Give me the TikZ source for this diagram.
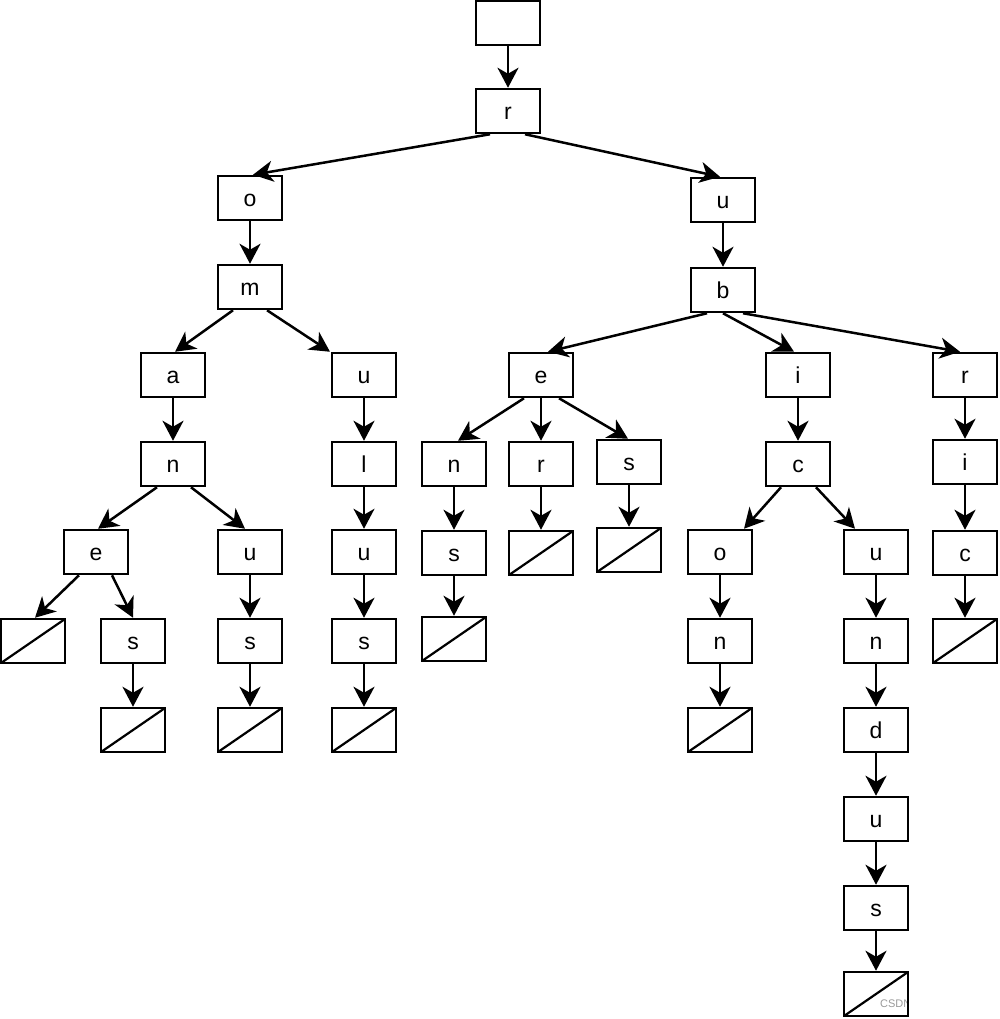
\documentclass[tikz,border=0pt]{standalone}
\usepackage{fontspec}
\setmainfont{Liberation Sans}
\usetikzlibrary{arrows.meta}
\begin{document}
\begin{tikzpicture}[x=1pt,y=-1pt,
  box/.style={draw, line width=2.5pt, minimum width=64pt, minimum height=44pt,
    inner sep=0pt, text height=16.5pt, text depth=0pt, font=\fontsize{23}{27}\selectfont},
  nullbox/.style={box, path picture={\draw[line width=2.2pt]
     (path picture bounding box.south west) -- (path picture bounding box.north east);}},
  arr/.style={line width=2.5pt, -{Stealth[length=20pt,width=21pt,inset=6pt]}}]
\useasboundingbox (0,0) rectangle (1000,1019);
% watermark
\begin{scope}
\clip (860,990) rectangle (908,1015);
\node[text=black!40, font=\fontsize{11}{13}\selectfont, anchor=west, inner sep=0pt] (wm) at (880,1004) {CSDN};
\end{scope}
% nodes
\node[box] (root) at (508,23) {};
\node[box] (r) at (508,111) {r};
\node[box] (o) at (250,198) {o};
\node[box] (u1) at (723,200) {u};
\node[box] (m) at (250,287) {m};
\node[box] (b) at (723,290) {b};
\node[box] (a) at (173,375) {a};
\node[box] (u2) at (364,375) {u};
\node[box] (e1) at (541,375) {e};
\node[box] (i1) at (798,375) {i};
\node[box] (r2) at (965,375) {r};
\node[box] (n1) at (173,464) {n};
\node[box] (l) at (364,464) {l};
\node[box] (n2) at (454,464) {n};
\node[box] (r3) at (541,464) {r};
\node[box] (s1) at (629,462) {s};
\node[box] (c1) at (798,464) {c};
\node[box] (i2) at (965,462) {i};
\node[box] (e2) at (96,552) {e};
\node[box] (u3) at (250,552) {u};
\node[box] (u4) at (364,552) {u};
\node[box] (s2) at (454,553) {s};
\node[nullbox] (z1) at (541,553) {};
\node[nullbox] (z2) at (629,550) {};
\node[box] (o2) at (720,552) {o};
\node[box] (u5) at (876,552) {u};
\node[box] (c2) at (965,553) {c};
\node[nullbox] (z3) at (33,641) {};
\node[box] (s3) at (133,641) {s};
\node[box] (s4) at (250,641) {s};
\node[box] (s5) at (364,641) {s};
\node[nullbox] (z4) at (454,639) {};
\node[box] (n3) at (720,641) {n};
\node[box] (n4) at (876,641) {n};
\node[nullbox] (z5) at (965,641) {};
\node[nullbox] (z6) at (133,730) {};
\node[nullbox] (z7) at (250,730) {};
\node[nullbox] (z8) at (364,730) {};
\node[nullbox] (z9) at (720,730) {};
\node[box] (d) at (876,730) {d};
\node[box] (u6) at (876,819) {u};
\node[box] (s6) at (876,908) {s};
\node[nullbox] (z10) at (876,994) {};
% edges
\draw[arr] (root.south) -- (r.north);
\draw[arr] ([xshift=-18pt]r.south) -- ([xshift=3pt]o.north);
\draw[arr] ([xshift=17pt]r.south) -- ([xshift=-3pt]u1.north);
\draw[arr] (o.south) -- (m.north);
\draw[arr] (u1.south) -- (b.north);
\draw[arr] ([xshift=-17pt]m.south) -- ([xshift=2pt]a.north);
\draw[arr] ([xshift=17pt]m.south) -- ([xshift=-34pt]u2.north);
\draw[arr] (a.south) -- (n1.north);
\draw[arr] (u2.south) -- (l.north);
\draw[arr] ([xshift=-16pt]n1.south) -- ([xshift=2pt]e2.north);
\draw[arr] ([xshift=18pt]n1.south) -- ([xshift=-5pt]u3.north);
\draw[arr] (l.south) -- (u4.north);
\draw[arr] ([xshift=-17pt]e2.south) -- ([xshift=2pt]z3.north);
\draw[arr] ([xshift=16pt]e2.south) -- (s3.north);
\draw[arr] (s3.south) -- (z6.north);
\draw[arr] (u3.south) -- (s4.north);
\draw[arr] (s4.south) -- (z7.north);
\draw[arr] (u4.south) -- (s5.north);
\draw[arr] (s5.south) -- (z8.north);
\draw[arr] ([xshift=-16pt]b.south) -- ([xshift=7pt]e1.north);
\draw[arr] (b.south) -- ([xshift=-4pt]i1.north);
\draw[arr] ([xshift=20pt]b.south) -- ([xshift=-5pt]r2.north);
\draw[arr] ([xshift=-17pt]e1.south) -- ([xshift=4pt]n2.north);
\draw[arr] (e1.south) -- (r3.north);
\draw[arr] ([xshift=18pt]e1.south) -- ([xshift=-1pt]s1.north);
\draw[arr] (n2.south) -- (s2.north);
\draw[arr] (s2.south) -- (z4.north);
\draw[arr] (r3.south) -- (z1.north);
\draw[arr] (s1.south) -- (z2.north);
\draw[arr] (i1.south) -- (c1.north);
\draw[arr] ([xshift=-17pt]c1.south) -- ([xshift=24pt]o2.north);
\draw[arr] ([xshift=18pt]c1.south) -- ([xshift=-21pt]u5.north);
\draw[arr] (o2.south) -- (n3.north);
\draw[arr] (n3.south) -- (z9.north);
\draw[arr] (u5.south) -- (n4.north);
\draw[arr] (n4.south) -- (d.north);
\draw[arr] (d.south) -- (u6.north);
\draw[arr] (u6.south) -- (s6.north);
\draw[arr] (s6.south) -- (z10.north);
\draw[arr] (r2.south) -- (i2.north);
\draw[arr] (i2.south) -- (c2.north);
\draw[arr] (c2.south) -- (z5.north);
\end{tikzpicture}
\end{document}
